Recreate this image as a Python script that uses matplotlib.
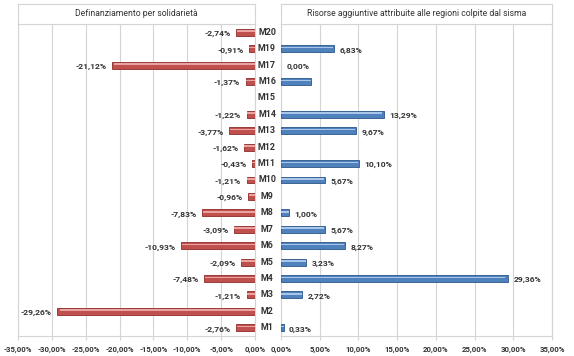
import numpy as np
import matplotlib
matplotlib.use("Agg")
import matplotlib.pyplot as plt
import matplotlib.transforms as mtransforms

plt.rcParams['font.family'] = ['Roboto', 'DejaVu Sans']

# categories from bottom to top (M18 is missing in the source)
cats = ["M1", "M2", "M3", "M4", "M5", "M6", "M7", "M8", "M9", "M10",
        "M11", "M12", "M13", "M14", "M15", "M16", "M17", "M19", "M20"]

# definanziamento per solidarieta (left, %)
defin = [-2.76, -29.26, -1.21, -7.48, -2.09, -10.93, -3.09, -7.83, -0.96, -1.21,
         -0.43, -1.62, -3.77, -1.22, np.nan, -1.37, -21.12, -0.91, -2.74]

# risorse aggiuntive (right, %), M16 bar has no label in the original
risorse = [0.33, np.nan, 2.72, 29.36, 3.23, 8.27, 5.67, 1.00, np.nan, 5.67,
           10.10, np.nan, 9.67, 13.29, np.nan, 3.9, 0.00, 6.83, np.nan]
risorse_lab = ["0,33%", "", "2,72%", "29,36%", "3,23%", "8,27%", "5,67%", "1,00%", "", "5,67%",
               "10,10%", "", "9,67%", "13,29%", "", "", "0,00%", "6,83%", ""]

left_ticks = [-35, -30, -25, -20, -15, -10, -5, 0]
right_ticks = [0, 5, 10, 15, 20, 25, 30, 35]

title_l = "Definanziamento per solidarietà"
title_r = "Risorse aggiuntive attribuite alle regioni colpite dal sisma"

W, H = 574, 356
fig = plt.figure(figsize=(W / 100, H / 100), dpi=100)
fig.patch.set_facecolor("white")

def fr(x0, y0, x1, y1):
    # pixel box (top-left origin) -> figure fraction rect
    return [x0 / W, 1 - y1 / H, (x1 - x0) / W, (y1 - y0) / H]

ax_l = fig.add_axes(fr(18, 24, 255, 336))
ax_r = fig.add_axes(fr(281, 24, 552, 336))
tl = fig.add_axes(fr(18, 4, 255, 24))
tr = fig.add_axes(fr(281, 4, 552, 24))

grid_c = "#d4d4d4"
txt_c = "#333333"
y = np.arange(len(cats))
bh = 0.42

red, red_dark, red_hi = "#c0504d", "#8c2d2a", "#eaa3a1"
blue, blue_dark, blue_hi = "#4f81bd", "#2c5688", "#a9c6ea"

d = np.array(defin)
r = np.array(risorse)
lw_r = [0 if v == 0 else 0.6 for v in risorse]

ax_l.barh(y, d, height=bh, color=red, edgecolor=red_dark, linewidth=0.6, zorder=3)
ax_l.barh(y + 0.07, d * 0.985, height=0.1, color=red_hi, linewidth=0, zorder=4)
ax_r.barh(y, r, height=bh, color=blue, edgecolor=blue_dark, linewidth=lw_r, zorder=3)
ax_r.barh(y + 0.07, r * 0.985, height=0.1, color=blue_hi, linewidth=0, zorder=4)

val_kw = dict(fontsize=6.1, color=txt_c, fontweight="bold")
tick_kw = dict(fontsize=5.6, color=txt_c, fontweight="bold")
for i, v in enumerate(defin):
    if not np.isnan(v):
        ax_l.annotate(("%.2f%%" % v).replace(".", ","), (v, i), xytext=(-4, -1),
                      textcoords="offset points", ha="right", va="center", **val_kw)
for i, v in enumerate(risorse):
    if risorse_lab[i]:
        ax_r.annotate(risorse_lab[i], (v, i), xytext=(4, -1),
                      textcoords="offset points", ha="left", va="center", **val_kw)

ax_l.set_xlim(-35, 0)
ax_r.set_xlim(0, 35)
for ax, ticks in ((ax_l, left_ticks), (ax_r, right_ticks)):
    ax.set_ylim(-0.5, len(cats) - 0.5)
    ax.set_xticks(ticks)
    ax.set_xticklabels([("%.2f%%" % t).replace(".", ",") for t in ticks], **tick_kw)
    ax.set_yticks([])
    ax.grid(axis="x", color=grid_c, linewidth=0.8, zorder=0)
    ax.tick_params(axis="x", length=3, color=grid_c, pad=4)
    for s in ax.spines.values():
        s.set_color(grid_c)
        s.set_linewidth(0.8)
    ax.set_axisbelow(True)

# category labels in the gap between panels
trans = mtransforms.blended_transform_factory(fig.transFigure, ax_l.transData)
for i, c in enumerate(cats):
    fig.text(267 / W, i, c, transform=trans, ha="center", va="center",
             fontsize=6.4, color=txt_c, fontweight="bold")

for ax, t in ((tl, title_l), (tr, title_r)):
    ax.set_xticks([])
    ax.set_yticks([])
    for s in ax.spines.values():
        s.set_color(grid_c)
        s.set_linewidth(0.8)
    ax.text(0.5, 0.5, t, ha="center", va="center", fontsize=6.2, color=txt_c,
            transform=ax.transAxes)

fig.savefig("out.png", dpi=100)
